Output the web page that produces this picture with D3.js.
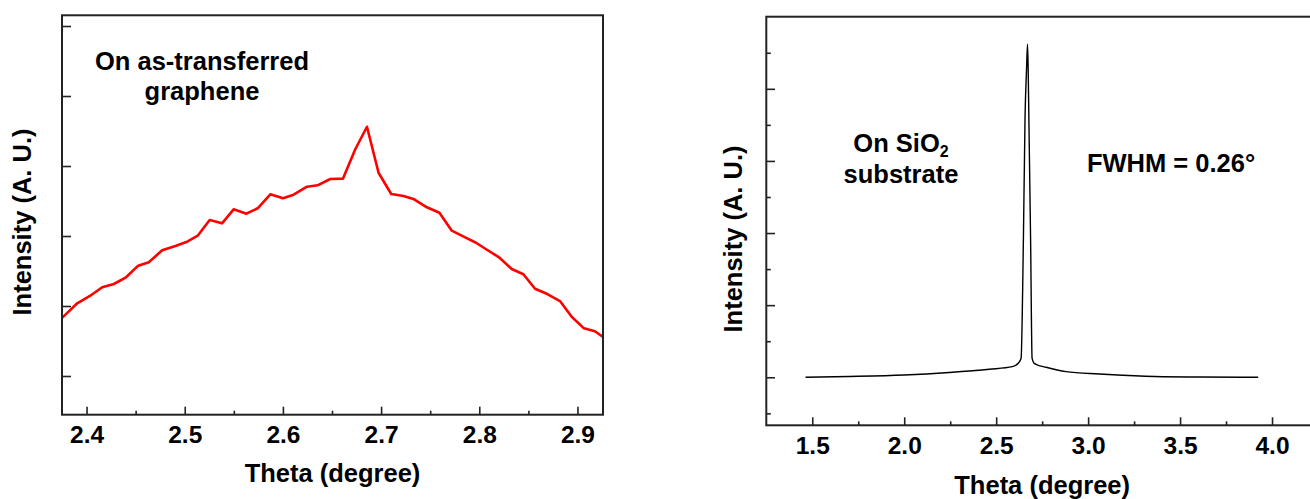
<!DOCTYPE html>
<meta charset="UTF-8">
<script src="https://d3js.org/d3.v7.min.js"></script>
<style>
body { margin: 0; background: #fff; }
text { font-family: "Liberation Sans", Arial, sans-serif; font-weight: bold; fill: #000; }
</style>
<body>
<div id="mysvg"></div>
<script>

// left panel: on as-transferred graphene
var theta1 = [2.3753, 2.3905, 2.4034, 2.416, 2.4278, 2.4397, 2.4526, 2.4634, 2.477, 2.4905,
  2.5017, 2.5132, 2.5254, 2.538, 2.5498, 2.5628, 2.5743, 2.5872, 2.6001, 2.6109,
  2.6245, 2.6353, 2.6482, 2.6611, 2.6737, 2.6856, 2.6974, 2.7103, 2.7228, 2.7337,
  2.7466, 2.7594, 2.772, 2.7856, 2.7967, 2.8082, 2.8201, 2.833, 2.8449, 2.8568,
  2.8693, 2.8822, 2.8941, 2.9066, 2.9178, 2.9256];
var intensity1 = [0.833, 1.039, 1.143, 1.267, 1.314, 1.404, 1.576, 1.624, 1.796, 1.857,
  1.914, 2.004, 2.229, 2.181, 2.381, 2.319, 2.396, 2.596, 2.539, 2.59,
  2.704, 2.724, 2.814, 2.819, 3.239, 3.561, 2.904, 2.6, 2.571, 2.524,
  2.41, 2.333, 2.076, 1.981, 1.904, 1.8, 1.696, 1.529, 1.453, 1.247,
  1.171, 1.071, 0.847, 0.681, 0.639, 0.561];
var xTicks1 = [2.4, 2.5, 2.6, 2.7, 2.8, 2.9];
var xMinor1 = [2.45, 2.55, 2.65, 2.75, 2.85];
var yTicks1 = [0, 1, 2, 3, 4, 5];

// right panel: on SiO2 substrate
var theta2 = [1.4635, 1.701, 1.999, 2.245, 2.463, 2.588, 2.621, 2.6355, 2.648, 2.657,
  2.665, 2.6705, 2.6741, 2.6779, 2.6872, 2.6953, 2.705, 2.717, 2.7715, 2.88,
  3.061, 3.188, 3.406, 3.606, 3.925];
var intensity2 = [0, 0.011, 0.032, 0.067, 0.111, 0.147, 0.198, 0.264, 1.904, 3.61,
  4.262, 4.619, 4.262, 3.569, 1.904, 0.264, 0.198, 0.18, 0.139, 0.078,
  0.046, 0.028, 0.008, 0.004, 0];
var xTicks2 = [1.5, 2.0, 2.5, 3.0, 3.5, 4.0];
var xMinor2 = [1.75, 2.25, 2.75, 3.25, 3.75];
var yTicks2 = [0, 1, 2, 3, 4];
var yMinor2 = [-0.5, 0.5, 1.5, 2.5, 3.5, 4.5];

var fs = "25.5px";

var svg = d3.select("#mysvg")
  .append("svg")
    .attr("width", 1310)
    .attr("height", 499);

function panel(o) {
  var x = d3.scaleLinear().domain(o.xdom).range([o.left, o.right]);
  var y = d3.scaleLinear().domain(o.ydom).range([o.bottom, o.top]);
  var g = svg.append("g");

  g.append("clipPath").attr("id", o.id)
    .append("rect")
      .attr("x", o.left).attr("y", o.top)
      .attr("width", o.right - o.left).attr("height", o.bottom - o.top);

  var line = d3.line()
    .curve(o.curve)
    .x(function(d) { return x(d[0]); })
    .y(function(d) { return y(d[1]); });

  g.append("path")
    .datum(d3.zip(o.xs, o.ys))
    .attr("clip-path", "url(#" + o.id + ")")
    .attr("fill", "none")
    .attr("stroke", o.color)
    .attr("stroke-width", o.width)
    .attr("stroke-linejoin", "round")
    .attr("d", line);

  // bottom axis, ticks pointing in
  var xa = g.append("g")
    .attr("transform", "translate(0," + o.bottom + ")")
    .call(d3.axisBottom(x).tickValues(o.xticks).tickSize(-8).tickFormat(o.xfmt));
  xa.selectAll("text").attr("dy", 0).attr("y", o.labelY).style("font-size", "24.5px");
  g.append("g")
    .attr("transform", "translate(0," + o.bottom + ")")
    .call(d3.axisBottom(x).tickValues(o.xminor).tickSize(-4).tickFormat(""));

  g.append("g")
    .attr("transform", "translate(" + o.left + ",0)")
    .call(d3.axisLeft(y).tickValues(o.yticks).tickSize(-o.ytick).tickFormat(""));
  if (o.yminor) {
    g.append("g")
      .attr("transform", "translate(" + o.left + ",0)")
      .call(d3.axisLeft(y).tickValues(o.yminor).tickSize(-4.5).tickFormat(""));
  }
  g.selectAll(".domain").remove();
  g.selectAll(".tick line").attr("stroke", "#222").attr("stroke-width", 1.6);

  g.append("rect")
    .attr("x", o.left).attr("y", o.top)
    .attr("width", o.right - o.left).attr("height", o.bottom - o.top)
    .attr("fill", "none")
    .attr("stroke", "#222")
    .attr("stroke-width", 2);

  g.append("text")
    .attr("x", (o.left + o.right) / 2)
    .attr("y", o.bottom + o.titleY)
    .attr("text-anchor", "middle")
    .style("font-size", fs)
    .text("Theta (degree)");

  g.append("text")
    .attr("transform", "translate(" + o.ytitleX + "," + o.ytitleMid + ") rotate(-90)")
    .attr("text-anchor", "middle")
    .style("font-size", fs)
    .text("Intensity (A. U.)");

  return g;
}

var g1 = panel({
  id: "clip1", xs: theta1, ys: intensity1, color: "#ff0000", width: 2.6,
  curve: d3.curveLinear,
  xdom: [2.375, 2.926], ydom: [-0.553, 5.153],
  left: 62, right: 603, top: 15.3, bottom: 414.7,
  xticks: xTicks1, xminor: xMinor1, yticks: yTicks1, ytick: 9,
  xfmt: d3.format(".1f"), labelY: 28.5, titleY: 67,
  ytitleX: 31, ytitleMid: 222
});

var g2 = panel({
  id: "clip2", xs: theta2, ys: intensity2, color: "#000", width: 1.4,
  curve: d3.curveMonotoneX,
  xdom: [1.25, 4.25], ydom: [-0.666, 5],
  left: 766.3, right: 1318, top: 16.7, bottom: 425.3,
  xticks: xTicks2, xminor: xMinor2, yticks: yTicks2, yminor: yMinor2, ytick: 8.7,
  xfmt: d3.format(".1f"), labelY: 29, titleY: 69,
  ytitleX: 742, ytitleMid: 239
});

var t1 = g1.append("text")
  .attr("text-anchor", "middle")
  .style("font-size", fs);
t1.append("tspan").attr("x", 202).attr("y", 70).text("On as-transferred");
t1.append("tspan").attr("x", 202).attr("y", 100).text("graphene");

var t2 = g2.append("text")
  .attr("text-anchor", "middle")
  .style("font-size", fs);
var l1 = t2.append("tspan").attr("x", 901).attr("y", 152);
l1.append("tspan").text("On SiO");
l1.append("tspan").attr("dy", 5).style("font-size", "16px").text("2");
t2.append("tspan").attr("x", 901).attr("y", 183).text("substrate");

g2.append("text")
  .attr("x", 1171)
  .attr("y", 171.7)
  .attr("text-anchor", "middle")
  .style("font-size", fs)
  .text("FWHM = 0.26°");

</script>
</body>
